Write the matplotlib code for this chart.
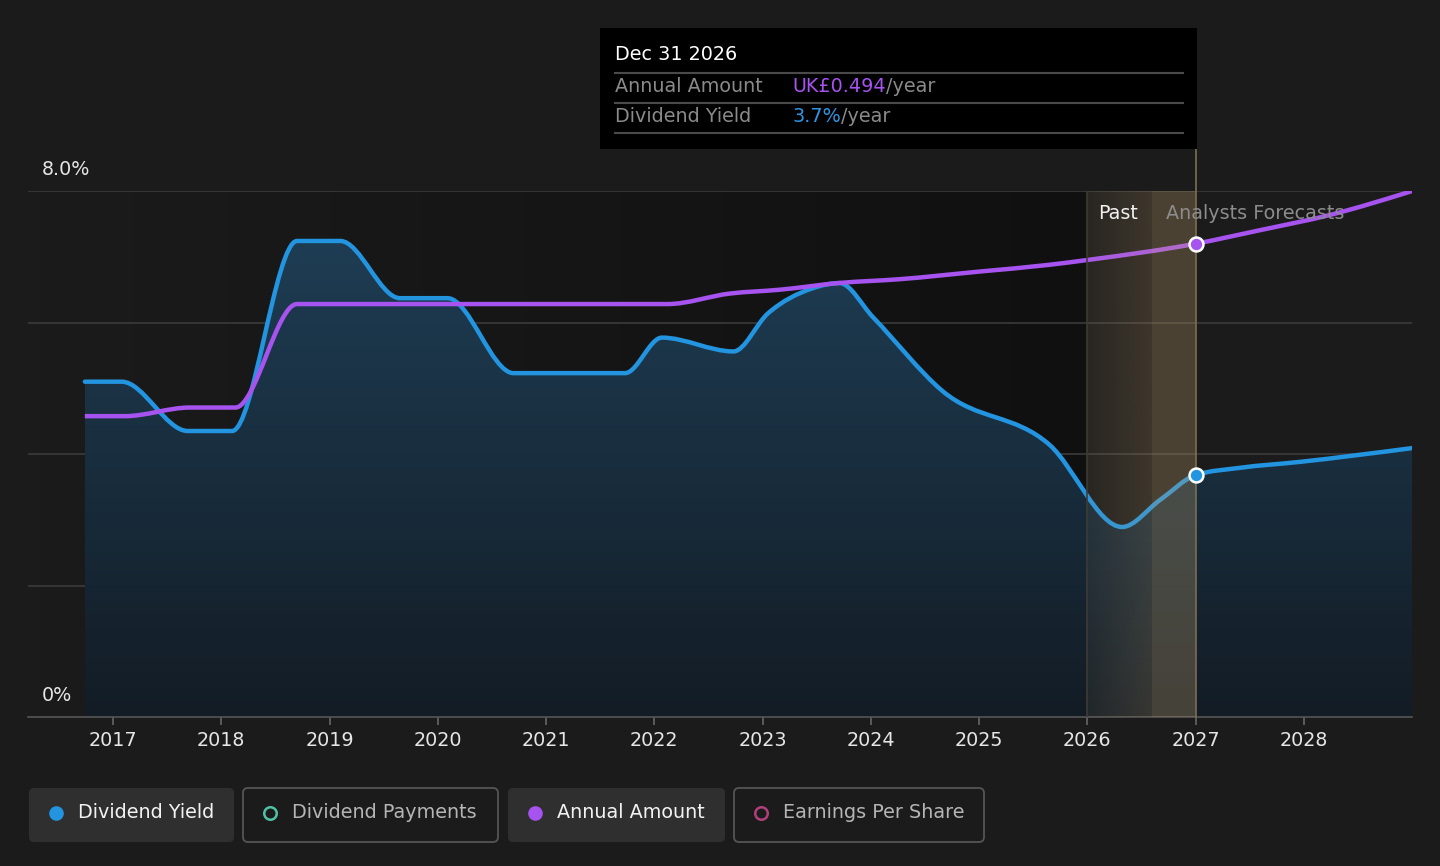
import matplotlib
matplotlib.use("Agg")
import matplotlib.pyplot as plt
import matplotlib.transforms as mtransforms
import numpy as np
from matplotlib.path import Path
from matplotlib.patches import PathPatch, FancyBboxPatch

# dividend yield (%)
yield_years = [2016.74, 2017.08, 2017.69, 2018.10, 2018.70, 2019.10, 2019.65, 2020.09,
               2020.70, 2021.73, 2022.07, 2022.73, 2023.05, 2023.46, 2023.71, 2024.02,
               2024.66, 2025.65, 2026.32, 2026.67, 2027.00, 2027.41,
               2027.96, 2029.00]
yield_values = [5.10, 5.10, 4.35, 4.35, 7.24, 7.24, 6.37, 6.37,
                5.23, 5.23, 5.77, 5.56, 6.14, 6.52, 6.60, 6.08,
                4.96, 4.14, 2.89, 3.30, 3.68, 3.79,
                3.88, 4.09]

# annual amount (UK£ per share)
amount_years = [2016.74, 2017.11, 2017.71, 2018.13, 2018.70, 2022.12, 2022.70, 2023.16,
                2023.71, 2024.27, 2025.01, 2025.65, 2026.00, 2027.00, 2027.59, 2028.24,
                2029.00]
amount_values = [0.314, 0.314, 0.323, 0.323, 0.431, 0.431, 0.442, 0.446,
                 0.453, 0.457, 0.465, 0.472, 0.477, 0.494, 0.508, 0.524,
                 0.549]

year_ticks = list(range(2017, 2029))
yield_gridlines = [2, 4, 6, 8]
past_start = 2026.0
past_split = 2026.6
forecast_start = 2027.0

legend_labels = ["Dividend Yield", "Dividend Payments", "Annual Amount", "Earnings Per Share"]
legend_active = [True, False, True, False]
legend_colors = ["#2394df", "#4fc1a6", "#a653f0", "#b0407a"]

BG = "#1b1b1b"
BLUE = "#2394df"
PURPLE = "#a653f0"
FS = 13.8


def monotone_path(xs, ys, close_to=None):
    # cubic bezier through the points, same tangents as d3 curveMonotoneX
    xs = np.asarray(xs, float)
    ys = np.asarray(ys, float)
    n = len(xs)
    h = np.diff(xs)
    s = np.diff(ys) / h
    t = np.zeros(n)
    for i in range(1, n - 1):
        p = (s[i - 1] * h[i] + s[i] * h[i - 1]) / (h[i - 1] + h[i])
        t[i] = (np.sign(s[i - 1]) + np.sign(s[i])) * min(abs(s[i - 1]), abs(s[i]), 0.5 * abs(p))
    t[0] = (3 * s[0] - t[1]) / 2
    t[-1] = (3 * s[-1] - t[-2]) / 2
    verts = [(xs[0], ys[0])]
    codes = [Path.MOVETO]
    for i in range(n - 1):
        dx = h[i] / 3
        verts += [(xs[i] + dx, ys[i] + dx * t[i]),
                  (xs[i + 1] - dx, ys[i + 1] - dx * t[i + 1]),
                  (xs[i + 1], ys[i + 1])]
        codes += [Path.CURVE4] * 3
    if close_to is not None:
        verts += [(xs[-1], close_to), (xs[0], close_to), (xs[0], ys[0])]
        codes += [Path.LINETO, Path.LINETO, Path.CLOSEPOLY]
    return Path(verts, codes)


fig = plt.figure(figsize=(14.4, 8.66), dpi=100, facecolor=BG)
ax = fig.add_axes([28 / 1440, 149 / 866, 1384 / 1440, 526 / 866])
ax.set_facecolor(BG)
x_left, x_right = 2016.215, 2028.998
ax.set_xlim(x_left, x_right)
ax.set_ylim(0, 8)
for sp in ["top", "right", "left"]:
    ax.spines[sp].set_visible(False)
ax.spines["bottom"].set_color("#555555")
ax.spines["bottom"].set_linewidth(1.2)
ax.set_yticks([])
ax.set_xticks(year_ticks)
ax.set_xticklabels([str(y) for y in year_ticks])
ax.tick_params(axis="x", colors="#666666", length=6, width=1.2, pad=4,
               labelsize=FS, labelcolor="#e6e6e6")

for g in yield_gridlines:
    ax.axhline(g, color="#3e3e3e", lw=1.1, zorder=1)

# darker shading over the past section
dark = np.zeros((2, 256, 4))
dark[..., 3] = np.linspace(0.0, 0.4, 256)[None, :]
ax.imshow(dark, extent=[x_left, past_start, 0, 8], aspect="auto", zorder=0.5,
          interpolation="bilinear")

# yield area with vertical gradient
fill_path = monotone_path(yield_years, yield_values, close_to=0)
fill_patch = PathPatch(fill_path, facecolor="none", edgecolor="none", transform=ax.transData)
ax.add_patch(fill_patch)
top_c = np.array([0x1f, 0x40, 0x58]) / 255
bot_c = np.array([0x13, 0x1c, 0x25]) / 255
grad = np.zeros((256, 2, 4))
fr = np.linspace(0, 1, 256)[:, None]
grad[..., :3] = (top_c * (1 - fr) + bot_c * fr)[:, None, :]
grad[..., 3] = 1.0
im = ax.imshow(grad, extent=[yield_years[0], yield_years[-1], 0, 8], aspect="auto",
               zorder=2, interpolation="bilinear")
im.set_clip_path(fill_patch)

# lines
ax.add_patch(PathPatch(monotone_path(yield_years, yield_values), facecolor="none",
                       edgecolor=BLUE, lw=3.2, zorder=3, capstyle="round"))
amount_top = amount_values[-1]
amount_tr = mtransforms.Affine2D().scale(1, 8 / amount_top) + ax.transData
ax.add_patch(PathPatch(monotone_path(amount_years, amount_values), facecolor="none",
                       edgecolor=PURPLE, lw=3.2, zorder=3, transform=amount_tr))

# highlighted band before the forecast date
gold = np.array([200, 165, 110]) / 255
band = np.zeros((2, 256, 4))
band[..., :3] = gold
band[..., 3] = np.linspace(0.08, 0.2, 256)[None, :]
ax.imshow(band, extent=[past_start, past_split, 0, 8], aspect="auto", zorder=4,
          interpolation="bilinear")
ax.axvspan(past_split, forecast_start, color=gold, alpha=0.28, lw=0, zorder=4)
ax.axvline(past_start, color="#3f3b34", lw=1.2, zorder=4)
ax.axvline(forecast_start, ymin=0, ymax=(717 - 149) / 526, color="#7d6e52", lw=1.2,
           zorder=4, clip_on=False)
ax.set_xlim(x_left, x_right)

i_y = yield_years.index(forecast_start)
i_a = amount_years.index(forecast_start)
ax.plot([forecast_start], [yield_values[i_y]], "o", ms=10, mfc=BLUE, mec="white",
        mew=1.8, zorder=6)
ax.plot([forecast_start], [amount_values[i_a]], "o", ms=10, mfc=PURPLE, mec="white",
        mew=1.8, zorder=6, transform=amount_tr)

ax.text(x_left + 0.13, 8.32, "8.0%", color="#e6e6e6", fontsize=FS, va="center", ha="left")
ax.text(x_left + 0.13, 0.32, "0%", color="#e6e6e6", fontsize=FS, va="center", ha="left")
ax.text(past_split - 0.13, 7.66, "Past", color="#f0f0f0", fontsize=FS, va="center",
        ha="right", zorder=7)
ax.text(forecast_start - 0.27, 7.66, "Analysts Forecasts", color="#8c8c8c", fontsize=FS,
        va="center", ha="left", zorder=7)

# overlay in pixel units for tooltip and legend
ov = fig.add_axes([0, 0, 1, 1], zorder=10)
ov.set_xlim(0, 1440)
ov.set_ylim(866, 0)
ov.axis("off")
ov.patch.set_alpha(0)

ov.add_patch(FancyBboxPatch((600, 28), 597, 121, boxstyle="square,pad=0", fc="black", ec="none"))
for yy in [72.5, 102.5, 133]:
    ov.plot([615, 1183], [yy, yy], color="#4a4a4a", lw=1.5)
ov.text(615, 55, "Dec 31 2026", color="white", fontsize=FS, va="center")
ov.text(615, 87, "Annual Amount", color="#8a8a8a", fontsize=FS, va="center")
ov.text(615, 117, "Dividend Yield", color="#8a8a8a", fontsize=FS, va="center")
t1 = ov.text(792, 87, "UK£%.3f" % amount_values[i_a], color=PURPLE, fontsize=FS, va="center")
ov.annotate("/year", xy=(1, 0), xycoords=t1, va="bottom", ha="left", color="#8a8a8a",
            fontsize=FS)
t2 = ov.text(792, 117, "%.1f%%" % yield_values[i_y], color="#2e95e0", fontsize=FS, va="center")
ov.annotate("/year", xy=(1, 0), xycoords=t2, va="bottom", ha="left", color="#8a8a8a",
            fontsize=FS)

boxes = [(29, 205), (243, 255), (508, 217), (734, 250)]
for (bx, bw), lab, act, col in zip(boxes, legend_labels, legend_active, legend_colors):
    if act:
        ov.add_patch(FancyBboxPatch((bx, 788), bw, 54, boxstyle="round,pad=0,rounding_size=5",
                                    fc="#2f2f2f", ec="none"))
        ov.plot([bx + 27], [812.5], "o", ms=9.5, mfc=col, mec=col)
        tc = "#f2f2f2"
    else:
        ov.add_patch(FancyBboxPatch((bx, 788), bw, 54, boxstyle="round,pad=0,rounding_size=5",
                                    fc=BG, ec="#555555", lw=1.3))
        ov.plot([bx + 27], [812.5], "o", ms=9, mfc="none", mec=col, mew=1.8)
        tc = "#b5b5b5"
    ov.text(bx + 49, 812.5, lab, color=tc, fontsize=FS, va="center", ha="left")

fig.savefig("out.png", dpi=100, facecolor=BG)
